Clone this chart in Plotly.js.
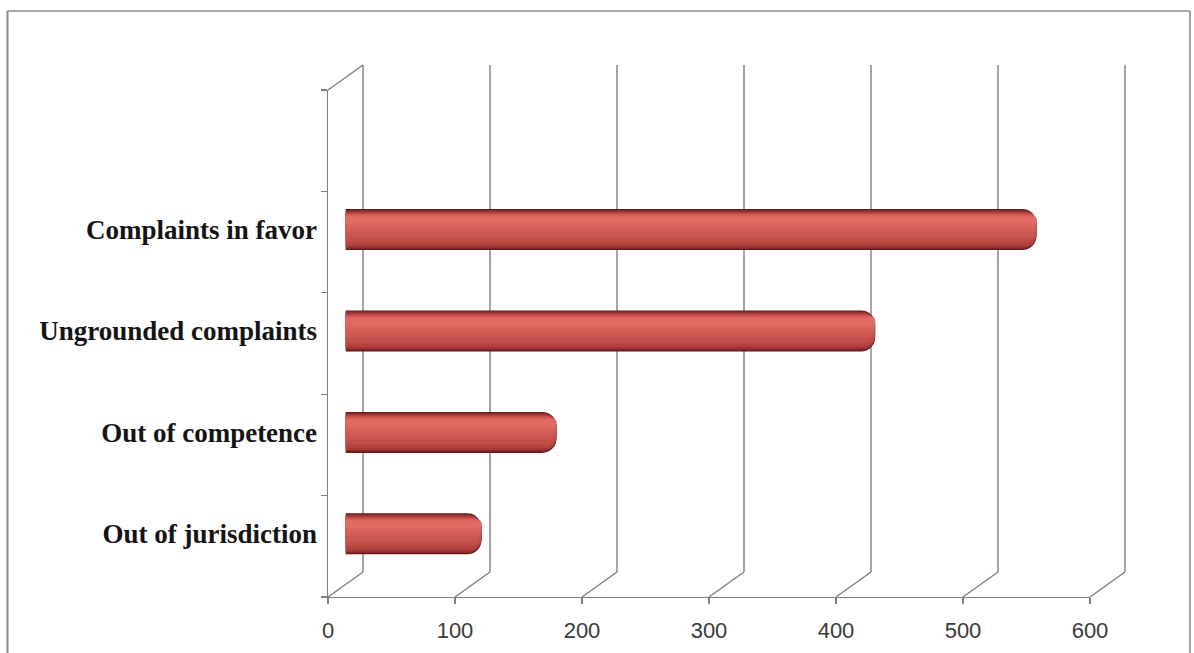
<!DOCTYPE html>
<html>
<head>
<meta charset="utf-8">
<script src="https://cdn.plot.ly/plotly-3.0.1.min.js"></script>
<style>html,body{margin:0;padding:0;background:#fff;}#chart{width:1194px;height:653px;}</style>
</head>
<body>
<div id="chart"></div>
<script>
// ---- data ----
const categories = ["Out of jurisdiction", "Out of competence", "Ungrounded complaints", "Complaints in favor"];
const values = [107, 166, 417, 544];
const xTicks = [0, 100, 200, 300, 400, 500, 600];
const xTickLabels = ["0", "100", "200", "300", "400", "500", "600"];

// ---- geometry (pixels) ----
const W = 1194, H = 653;
const X0 = 328, XSPAN = 762, XMAX = 600;
const Y0 = 597, YSPAN = 507, NSLOT = 5;
const DX = 35, DY = 25;
const pxu = XSPAN / XMAX, pys = YSPAN / NSLOT;
const dxu = DX / pxu, dyu = DY / pys;
const fx = p => p / W, fy = p => 1 - p / H;
const yLo = -0.5, yHi = NSLOT - 0.5;
const PAD = 4;
const padx = PAD / pxu, pady = PAD / pys;

// ---- frame lines (back wall gridlines, floor diagonals, left wall top) ----
const fxs = [], fys = [];
xTicks.forEach(v => {
  fxs.push(v + dxu, v + dxu, null); fys.push(yLo + dyu, yHi + dyu, null);
  fxs.push(v, v + dxu, null); fys.push(yLo, yLo + dyu, null);
});
fxs.push(0, dxu, null); fys.push(yHi, yHi + dyu, null);

const traces = [{
  type: 'scatter', mode: 'lines', x: fxs, y: fys, xaxis: 'x', yaxis: 'y',
  line: {color: '#7f7f7f', width: 1.4}, hoverinfo: 'skip', showlegend: false
}];

// ---- cylinder bars built from nested layers ----
const T = 0.404;
const layers = [
  [0.00, 1.00, '#5e1a1a'],
  [0.02, 0.97, '#842b2a'],
  [0.05, 0.93, '#a23a37'],
  [0.08, 0.88, '#b54441'],
  [0.10, 0.80, '#c24d49'],
  [0.12, 0.68, '#cc5651'],
  [0.14, 0.55, '#d45d58'],
  [0.16, 0.44, '#db645f'],
  [0.19, 0.36, '#e06b65']
];
layers.forEach(([a, b, c]) => {
  traces.push({
    type: 'bar', orientation: 'h', x: values, y: categories,
    xaxis: 'x2', yaxis: 'y2',
    width: (b - a) * T, offset: T / 2 - b * T,
    marker: {color: c, cornerradius: '35%', line: {width: 0}},
    hoverinfo: 'skip', showlegend: false
  });
});

// invisible trace to keep the front axes subplot
traces.push({type: 'scatter', mode: 'markers', x: [0], y: [0], xaxis: 'x3', yaxis: 'y3',
  marker: {opacity: 0}, hoverinfo: 'skip', showlegend: false});

const boundaries = [];
for (let i = 0; i <= NSLOT; i++) boundaries.push(yLo + i);

const layout = {
  width: W, height: H,
  margin: {l: 0, r: 0, t: 0, b: 0},
  paper_bgcolor: '#ffffff', plot_bgcolor: 'rgba(0,0,0,0)',
  showlegend: false, barmode: 'overlay',
  xaxis: {domain: [fx(X0 - PAD), fx(X0 + XSPAN + DX + PAD)], range: [-padx, XMAX + dxu + padx],
    visible: false, fixedrange: true},
  yaxis: {domain: [fy(Y0 + PAD), fy(Y0 - YSPAN - DY - PAD)], range: [yLo - pady, yHi + dyu + pady],
    visible: false, fixedrange: true, anchor: 'x'},
  xaxis2: {domain: [fx(X0 + DX / 2), fx(X0 + DX / 2 + XSPAN)], range: [0, XMAX], anchor: 'y2',
    visible: false, fixedrange: true},
  yaxis2: {domain: [fy(Y0 - DY / 2), fy(Y0 - DY / 2 - YSPAN)], range: [yLo, yHi], anchor: 'x2',
    type: 'category', categoryorder: 'array', categoryarray: categories,
    showgrid: false, zeroline: false, showline: false,
    ticks: 'outside', ticklen: 22, tickcolor: 'rgba(0,0,0,0)',
    tickfont: {family: 'Liberation Serif', size: 27, color: '#141414', weight: 'bold'},
    fixedrange: true},
  xaxis3: {domain: [fx(X0), fx(X0 + XSPAN)], range: [0, XMAX], anchor: 'y3',
    tickmode: 'array', tickvals: xTicks, ticktext: xTickLabels,
    ticks: 'outside', ticklen: 6, tickwidth: 1.2, tickcolor: '#7f7f7f',
    showline: true, linecolor: '#7f7f7f', linewidth: 1.4,
    showgrid: false, zeroline: false, ticklabelstandoff: 7,
    tickfont: {family: 'Liberation Sans', size: 22, color: '#3a3a3a'},
    fixedrange: true},
  yaxis3: {domain: [fy(Y0), fy(Y0 - YSPAN)], range: [yLo, yHi], anchor: 'x3',
    tickmode: 'array', tickvals: boundaries, showticklabels: false,
    ticks: 'outside', ticklen: 6, tickwidth: 1.2, tickcolor: '#7f7f7f',
    showline: true, linecolor: '#7f7f7f', linewidth: 1.4,
    showgrid: false, zeroline: false, fixedrange: true},
  shapes: [
    {type: 'line', xref: 'paper', yref: 'paper', x0: fx(7.5), x1: fx(7.5), y0: fy(11), y1: fy(660), line: {color: '#8a8a8a', width: 2}},
    {type: 'line', xref: 'paper', yref: 'paper', x0: fx(7.5), x1: fx(1190), y0: fy(11), y1: fy(11), line: {color: '#8a8a8a', width: 1.6}},
    {type: 'line', xref: 'paper', yref: 'paper', x0: fx(1190), x1: fx(1190), y0: fy(11), y1: fy(660), line: {color: '#8a8a8a', width: 1.6}}
  ]
};

Plotly.newPlot('chart', traces, layout, {displayModeBar: false, staticPlot: true});
</script>
</body>
</html>
